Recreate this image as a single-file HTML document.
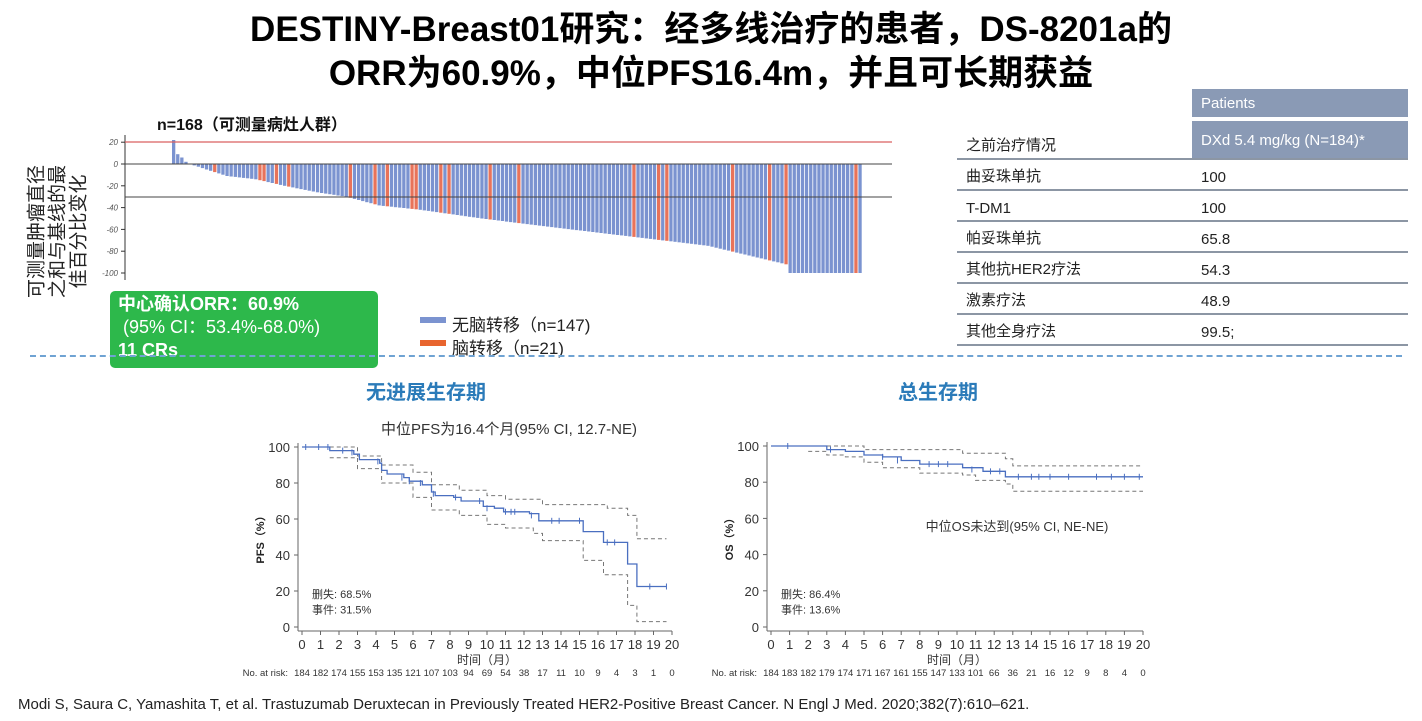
<!DOCTYPE html>
<html><head><meta charset="utf-8"><style>
body{margin:0;width:1422px;height:721px;background:#fff;overflow:hidden;font-family:"Liberation Sans","Noto Sans CJK SC",sans-serif;position:relative}
.a{position:absolute;white-space:nowrap}
.t{font-weight:bold;font-size:35px;color:#000;left:0;width:1422px;text-align:center}
.row{position:absolute;left:957px;width:451px;border-bottom:2px solid #8c96a4;height:29px;font-size:15px;color:#222}
.row span{position:absolute;bottom:3px}
</style></head><body>
<div class="a t" style="top:1px">DESTINY-Breast01研究：经多线治疗的患者，DS-8201a的</div>
<div class="a t" style="top:45px">ORR为60.9%，中位PFS16.4m，并且可长期获益</div>

<div class="a" style="left:1192px;top:89px;width:216px;height:28px;background:#8a9ab5;color:#fff;font-size:15px;line-height:30px;text-indent:9px">Patients</div>
<div class="a" style="left:1192px;top:121px;width:216px;height:37px;background:#8a9ab5;color:#fff;font-size:15px;line-height:40px;text-indent:9px">DXd 5.4 mg/kg (N=184)*</div>
<div class="row" style="top:129px"><span style="left:9px">之前治疗情况</span></div>
<div class="row" style="top:160px"><span style="left:9px">曲妥珠单抗</span><span style="left:244px">100</span></div>
<div class="row" style="top:191px"><span style="left:9px">T-DM1</span><span style="left:244px">100</span></div>
<div class="row" style="top:222px"><span style="left:9px">帕妥珠单抗</span><span style="left:244px">65.8</span></div>
<div class="row" style="top:253px"><span style="left:9px">其他抗HER2疗法</span><span style="left:244px">54.3</span></div>
<div class="row" style="top:284px"><span style="left:9px">激素疗法</span><span style="left:244px">48.9</span></div>
<div class="row" style="top:315px"><span style="left:9px">其他全身疗法</span><span style="left:244px">99.5;</span></div>

<div class="a" style="left:-62px;top:200px;width:240px;transform:rotate(-90deg);font-size:19px;line-height:21px;text-align:center;color:#222;white-space:normal">可测量肿瘤直径<br>之和与基线的最<br>佳百分比变化</div>

<div class="a" style="left:110px;top:291px;width:268px;height:77px;background:#2db84b;border-radius:5px;color:#fff;font-size:18px;line-height:23px;box-sizing:border-box;padding:2px 8px"><b>中心确认ORR：60.9%</b><br>&nbsp;(95% CI：53.4%-68.0%)<br><b>11 CRs</b></div>

<div class="a" style="left:420px;top:317px;width:26px;height:6px;background:#7b93d0"></div>
<div class="a" style="left:452px;top:311px;font-size:17px;color:#222">无脑转移（n=147)</div>
<div class="a" style="left:420px;top:340px;width:26px;height:6px;background:#e8652f"></div>
<div class="a" style="left:452px;top:334px;font-size:17px;color:#222">脑转移（n=21)</div>

<div class="a" style="left:30px;top:355px;width:1372px;border-top:2px dashed #6fa3d3"></div>
<div class="a" style="left:366px;top:376px;font-size:20px;font-weight:bold;color:#2b7bb9">无进展生存期</div>
<div class="a" style="left:898px;top:376px;font-size:20px;font-weight:bold;color:#2b7bb9">总生存期</div>
<div class="a" style="left:18px;top:696px;font-size:15px;color:#222">Modi S, Saura C, Yamashita T, et al. Trastuzumab Deruxtecan in Previously Treated HER2-Positive Breast Cancer. N Engl J Med. 2020;382(7):610–621.</div>

<svg id="s" class="a" style="left:0;top:0" width="1422" height="721" font-family="Liberation Sans, Noto Sans CJK SC, sans-serif"></svg>
<script>
var s=document.getElementById('s'),h='';
h+='<text x="157" y="130" font-size="16" font-weight="bold" fill="#111">n=168（可测量病灶人群）</text>';
h+='<line x1="125" y1="135" x2="125" y2="280" stroke="#333"/>';
var y0=164,k=1.09;
[20,0,-20,-40,-60,-80,-100].forEach(function(v){var y=y0-v*k;h+='<line x1="121" y1="'+y+'" x2="125" y2="'+y+'" stroke="#333"/><text x="118" y="'+(y+3)+'" font-size="8" font-style="italic" fill="#555" text-anchor="end">'+v+'</text>';});
var kp=[[4,0],[8,-5],[13,-11],[20,-14],[27,-20],[35,-26],[42,-30],[50,-38],[60,-42],[75,-50],[90,-57],[110,-66],[130,-75],[149,-92]];
function wv(i){if(i==0)return 22;if(i==1)return 9;if(i==2)return 6;if(i==3)return 2;if(i>=150)return -100;for(var j=0;j<kp.length-1;j++){if(i<=kp[j+1][0]){var a=kp[j],b=kp[j+1];return a[1]+(b[1]-a[1])*(i-a[0])/(b[0]-a[0]);}}return -92;}
var red=[10,21,22,25,28,43,49,52,58,59,65,67,77,84,112,118,120,136,145,149,166];
for(var i=0;i<168;i++){var v=wv(i),x=172+i*4.11,y=v>0?y0-v*k:y0,hh=Math.abs(v)*k;h+='<rect x="'+x.toFixed(1)+'" y="'+y.toFixed(1)+'" width="3.3" height="'+hh.toFixed(1)+'" fill="'+(red.indexOf(i)>=0?'#e8735a':'#7b93d0')+'"/>';}
h+='<line x1="125" y1="142" x2="892" y2="142" stroke="#d96060" stroke-width="1.3"/>';
h+='<line x1="125" y1="164" x2="892" y2="164" stroke="#444"/>';
h+='<line x1="125" y1="197" x2="892" y2="197" stroke="#444"/>';
function km(o){var X=function(t){return o.x0+t*o.sx},Y=function(p){return o.y0-p*o.sy};
 var g='';
 g+='<line x1="'+(o.x0-4)+'" y1="'+(Y(100)-4)+'" x2="'+(o.x0-4)+'" y2="'+(o.y0+4)+'" stroke="#666"/>';
 g+='<line x1="'+(o.x0-4)+'" y1="'+(o.y0+4)+'" x2="'+X(20)+'" y2="'+(o.y0+4)+'" stroke="#666"/>';
 for(var p=0;p<=100;p+=20){g+='<line x1="'+(o.x0-8)+'" y1="'+Y(p)+'" x2="'+(o.x0-4)+'" y2="'+Y(p)+'" stroke="#666"/><text x="'+(o.x0-12)+'" y="'+(Y(p)+5)+'" font-size="13" fill="#333" text-anchor="end">'+p+'</text>';}
 for(var t=0;t<=20;t++){g+='<line x1="'+X(t)+'" y1="'+(o.y0+4)+'" x2="'+X(t)+'" y2="'+(o.y0+8)+'" stroke="#666"/><text x="'+X(t)+'" y="'+(o.y0+22)+'" font-size="13" fill="#333" text-anchor="middle">'+t+'</text><text x="'+X(t)+'" y="'+(o.y0+49)+'" font-size="9.5" fill="#333" text-anchor="middle">'+o.risk[t]+'</text>';}
 g+='<text x="'+(o.x0-14)+'" y="'+(o.y0+49)+'" font-size="9.5" fill="#333" text-anchor="end">No. at risk:</text>';
 g+='<text x="'+X(10)+'" y="'+(o.y0+37)+'" font-size="12" fill="#333" text-anchor="middle">时间（月）</text>';
 g+='<text transform="translate('+(o.x0-38)+','+Y(50)+') rotate(-90)" font-size="11" font-weight="bold" fill="#222" text-anchor="middle">'+o.lab+'（%）</text>';
 g+='<text x="'+(o.x0+10)+'" y="'+Y(16)+'" font-size="11" fill="#333">删失: '+o.c1+'</text><text x="'+(o.x0+10)+'" y="'+Y(7.5)+'" font-size="11" fill="#333">事件: '+o.c2+'</text>';
 function step(a){var d='M'+X(a[0][0])+','+Y(a[0][1]);for(var i=1;i<a.length;i++){d+=' H'+X(a[i][0]).toFixed(1)+' V'+Y(a[i][1]).toFixed(1);}return d;}
 g+='<path d="'+step(o.up)+'" fill="none" stroke="#777" stroke-dasharray="4,3"/>';
 g+='<path d="'+step(o.lo)+'" fill="none" stroke="#777" stroke-dasharray="4,3"/>';
 g+='<path d="'+step(o.c)+'" fill="none" stroke="#4a6fc0" stroke-width="1.3"/>';
 o.cens.forEach(function(c){g+='<line x1="'+X(c[0])+'" y1="'+(Y(c[1])-3)+'" x2="'+X(c[0])+'" y2="'+(Y(c[1])+3)+'" stroke="#4a6fc0"/>';});
 return g;}
h+='<text x="509" y="434" font-size="15" fill="#333" text-anchor="middle">中位PFS为16.4个月(95% CI, 12.7-NE)</text>';
h+=km({x0:302,sx:18.5,y0:627,sy:1.8,lab:'PFS',c1:'68.5%',c2:'31.5%',
risk:[184,182,174,155,153,135,121,107,103,94,69,54,38,17,11,10,9,4,3,1,0],
c:[[0,100],[1.5,98],[2.8,96],[3.1,93],[4.2,91],[4.3,87],[4.6,85],[5.5,83],[5.8,81],[6.5,79],[7,75],[7.2,73],[8.2,72],[8.6,70],[9.8,67],[10.4,66],[10.9,64],[12.3,63],[12.8,59],[15.2,53],[16.3,47],[17.6,35],[18.1,22.5],[19.7,22.5]],
up:[[1.5,100],[3,95],[4.3,90],[6,86],[7,79],[8.5,76],[10,73],[11,71],[13,68],[16.5,66],[17.6,62],[18.1,49],[19.7,49]],
lo:[[1.5,94],[3,88],[4.3,80],[6,72],[7,65],[8.5,62],[10,57],[11,55],[12.5,52],[13,48],[15.2,37],[16.3,29],[17.6,12],[18.1,3],[19.7,3]],
cens:[[0.2,100],[0.9,100],[1.4,100],[2.2,98],[2.7,97],[4.1,92],[5.4,83],[5.8,81],[6.4,80],[7.1,74],[8.3,72],[9.6,70],[10,66],[11,64],[11.3,64],[11.5,64],[12.4,62],[13.5,59],[13.9,59],[15,59],[16.5,47],[16.9,47],[18.8,22.5],[19.7,22.5]]});
h+='<text x="1017" y="531" font-size="13" fill="#333" text-anchor="middle">中位OS未达到(95% CI, NE-NE)</text>';
h+=km({x0:771,sx:18.6,y0:627,sy:1.81,lab:'OS',c1:'86.4%',c2:'13.6%',
risk:[184,183,182,179,174,171,167,161,155,147,133,101,66,36,21,16,12,9,8,4,0],
c:[[0,100],[2.5,100],[3,98],[4,97],[5,95],[6,94],[7,92],[8,90],[10.3,88],[11.4,86],[12.6,83],[20,83]],
up:[[0,100],[4,100],[5,98],[10.3,96],[12.6,93],[13,89],[20,89]],
lo:[[2,97],[3,95],[4,94],[5,91],[6,88],[8,85],[10.3,84],[11,81],[12.6,79],[13,75],[20,75]],
cens:[[0.9,100],[3.2,98],[6,94],[6.8,92],[8.5,90],[9,90],[9.5,90],[10.8,87],[11.8,86],[12.3,86],[13.3,83],[14,83],[14.4,83],[15,83],[16,83],[17.5,83],[18.3,83],[19,83],[19.8,83]]});
s.innerHTML=h;
</script>
</body></html>
